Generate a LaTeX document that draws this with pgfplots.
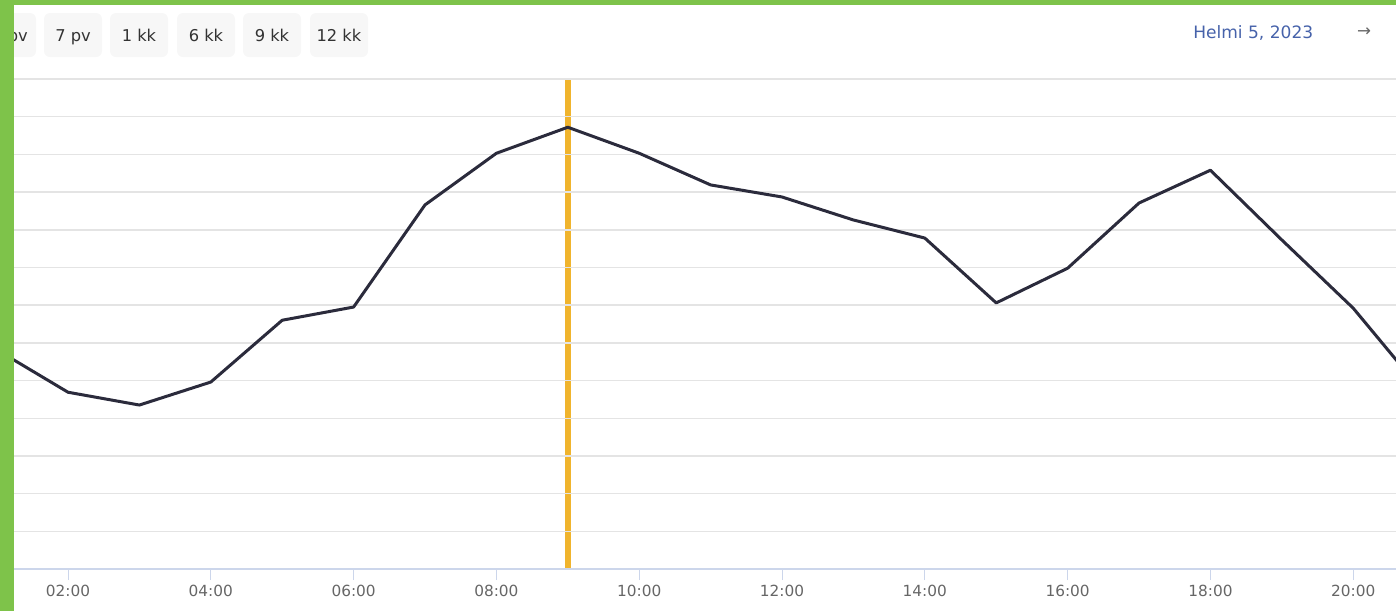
\documentclass[border=0pt]{standalone}
\usepackage{fontspec}
\setmainfont{DejaVu Sans}
\usepackage{pgfplots}
\usepackage{pgfplotstable}
\pgfplotsset{compat=1.18}

\definecolor{leaf}{RGB}{126,195,74}
\definecolor{btnfill}{RGB}{247,247,247}
\definecolor{btntext}{RGB}{51,51,51}
\definecolor{datetext}{RGB}{70,98,170}
\definecolor{gridgray}{RGB}{228,228,228}
\definecolor{axisblue}{RGB}{204,214,235}
\definecolor{ticktext}{RGB}{102,102,102}
\definecolor{seriesdark}{RGB}{43,43,60}
\definecolor{nowline}{RGB}{240,180,45}

% hourly values, in grid units
\pgfplotstableread{
hour value
1  5.82
2  4.69
3  4.35
4  4.96
5  6.60
6  6.95
7  9.66
8  11.03
9  11.72
10 11.03
11 10.19
12 9.87
13 9.26
14 8.78
15 7.06
16 7.98
17 9.71
18 10.58
19 8.73
20 6.92
21 4.64
}\hourly

\begin{document}
\begin{tikzpicture}[x=0.75pt,y=-0.75pt]

% range buttons
\foreach \a/\t/\dx in {-22/1 pv/3, 44/7 pv/0, 110/1 kk/0, 177/6 kk/0, 243/9 kk/0, 310/12 kk/0}{
  \fill[btnfill, rounded corners=4.5pt] (\a,13) rectangle ++(58,44);
  \node[anchor=base, inner sep=0, text=btntext, font=\fontsize{12.2}{14}\selectfont] at (\a+29+\dx,41) {\t};
}
\node[anchor=base west, inner sep=0, text=datetext, font=\fontsize{12.8}{15}\selectfont] at (1193,38) {Helmi 5, 2023};
\node[inner sep=0, text=ticktext, font=\fontsize{12.5}{14}\selectfont] at (1364,32) {→};

\begin{axis}[
    at={(10.5pt,-426.75pt)}, anchor=south west,
    scale only axis,
    width=1036.5pt, height=367.5pt,
    set layers,
    xmin=1.2437, xmax=20.599,
    ymin=0, ymax=13,
    axis x line*=bottom, axis y line*=left,
    x axis line style={draw=axisblue, line width=1.1pt, -},
    y axis line style={draw=none},
    xtick={2,4,...,20},
    xticklabels={02:00,04:00,06:00,08:00,10:00,12:00,14:00,16:00,18:00,20:00},
    tick align=outside,
    major tick length=8.25pt,
    xtick style={draw=axisblue, line width=0.75pt},
    xticklabel style={font=\fontsize{11.5}{13}\selectfont, text=ticktext, anchor=base, yshift=-12pt},
    ytick={1,...,13},
    yticklabels={},
    ytick style={draw=none},
    ymajorgrids,
    grid style={draw=gridgray, line width=1.1pt},
]
\addplot[nowline, line width=4.2pt, on layer=axis background] coordinates {(9,0) (9,13)};
\addplot[seriesdark, line width=2.25pt, line join=round, mark=none] table[x=hour, y=value] {\hourly};
\end{axis}

\fill[leaf] (0,0) rectangle (14,611);
\fill[leaf] (0,0) rectangle (1396,5);
\pgfresetboundingbox
\useasboundingbox (0,0) rectangle (1396,611);
\end{tikzpicture}
\end{document}
